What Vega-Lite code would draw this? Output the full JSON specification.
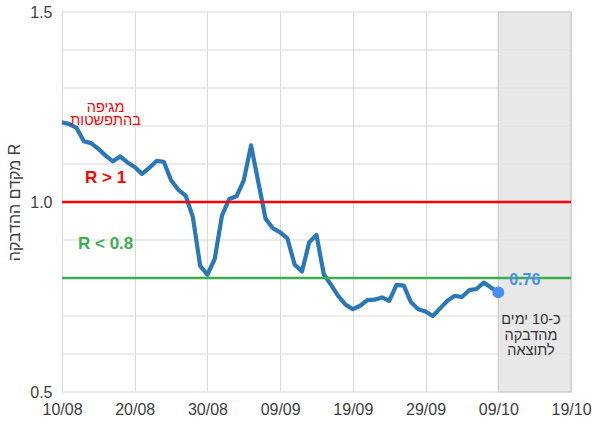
{
  "$schema": "https://vega.github.io/schema/vega-lite/v6.json",
  "width": 509,
  "height": 380,
  "autosize": {"type": "none"},
  "padding": {"left": 62, "top": 12, "right": 21, "bottom": 35},
  "config": {
    "font": "Liberation Sans",
    "view": {"stroke": null},
    "axis": {"gridColor": "#d9d9d9", "gridWidth": 1, "domain": false, "ticks": false, "labelFontSize": 16, "labelColor": "#404040"}
  },
  "datasets": {
    "r": [
      {"d": "2020-08-10", "r": 1.21},
      {"d": "2020-08-11", "r": 1.205},
      {"d": "2020-08-12", "r": 1.195},
      {"d": "2020-08-13", "r": 1.16},
      {"d": "2020-08-14", "r": 1.155},
      {"d": "2020-08-15", "r": 1.14},
      {"d": "2020-08-16", "r": 1.122},
      {"d": "2020-08-17", "r": 1.107},
      {"d": "2020-08-18", "r": 1.12},
      {"d": "2020-08-19", "r": 1.104},
      {"d": "2020-08-20", "r": 1.092},
      {"d": "2020-08-21", "r": 1.074},
      {"d": "2020-08-22", "r": 1.09},
      {"d": "2020-08-23", "r": 1.108},
      {"d": "2020-08-24", "r": 1.106},
      {"d": "2020-08-25", "r": 1.057},
      {"d": "2020-08-26", "r": 1.032},
      {"d": "2020-08-27", "r": 1.017},
      {"d": "2020-08-28", "r": 0.96},
      {"d": "2020-08-29", "r": 0.832},
      {"d": "2020-08-30", "r": 0.809},
      {"d": "2020-08-31", "r": 0.85},
      {"d": "2020-09-01", "r": 0.964},
      {"d": "2020-09-02", "r": 1.008},
      {"d": "2020-09-03", "r": 1.015},
      {"d": "2020-09-04", "r": 1.057},
      {"d": "2020-09-05", "r": 1.149},
      {"d": "2020-09-06", "r": 1.052},
      {"d": "2020-09-07", "r": 0.956},
      {"d": "2020-09-08", "r": 0.931},
      {"d": "2020-09-09", "r": 0.92},
      {"d": "2020-09-10", "r": 0.904},
      {"d": "2020-09-11", "r": 0.835},
      {"d": "2020-09-12", "r": 0.817},
      {"d": "2020-09-13", "r": 0.894},
      {"d": "2020-09-14", "r": 0.913},
      {"d": "2020-09-15", "r": 0.81},
      {"d": "2020-09-16", "r": 0.782},
      {"d": "2020-09-17", "r": 0.752},
      {"d": "2020-09-18", "r": 0.73},
      {"d": "2020-09-19", "r": 0.718},
      {"d": "2020-09-20", "r": 0.727},
      {"d": "2020-09-21", "r": 0.742},
      {"d": "2020-09-22", "r": 0.743},
      {"d": "2020-09-23", "r": 0.749},
      {"d": "2020-09-24", "r": 0.74},
      {"d": "2020-09-25", "r": 0.782},
      {"d": "2020-09-26", "r": 0.78},
      {"d": "2020-09-27", "r": 0.736},
      {"d": "2020-09-28", "r": 0.718},
      {"d": "2020-09-29", "r": 0.712},
      {"d": "2020-09-30", "r": 0.7},
      {"d": "2020-10-01", "r": 0.72},
      {"d": "2020-10-02", "r": 0.74},
      {"d": "2020-10-03", "r": 0.753},
      {"d": "2020-10-04", "r": 0.75},
      {"d": "2020-10-05", "r": 0.768},
      {"d": "2020-10-06", "r": 0.771},
      {"d": "2020-10-07", "r": 0.788},
      {"d": "2020-10-08", "r": 0.775},
      {"d": "2020-10-09", "r": 0.762}
    ],
    "grid": [
      {"v": 0.6}, {"v": 0.7}, {"v": 0.8}, {"v": 0.9}, {"v": 1.0},
      {"v": 1.1}, {"v": 1.2}, {"v": 1.3}, {"v": 1.4}, {"v": 1.5}, {"v": 0.5}
    ],
    "notes": [
      {"d": "2020-08-16", "r": 1.247, "t": "מגיפה", "g": "red"},
      {"d": "2020-08-16", "r": 1.213, "t": "בהתפשטות", "g": "red"},
      {"d": "2020-10-13T12:00:00Z", "r": 0.69, "t": "כ-10 ימים", "g": "black"},
      {"d": "2020-10-13T12:00:00Z", "r": 0.647, "t": "מהדבקה", "g": "black"},
      {"d": "2020-10-13T12:00:00Z", "r": 0.608, "t": "לתוצאה", "g": "black"}
    ],
    "bold": [
      {"d": "2020-08-16", "r": 1.062, "t": "R > 1", "g": "red"},
      {"d": "2020-08-16", "r": 0.89, "t": "R < 0.8", "g": "green"}
    ]
  },
  "layer": [
    {
      "data": {"name": "grid"},
      "mark": {"type": "rule", "color": "#d9d9d9", "strokeWidth": 1},
      "encoding": {"y": {"field": "v", "type": "quantitative"}}
    },
    {
      "data": {"values": [{"s": "2020-10-09", "e": "2020-10-19"}]},
      "mark": {"type": "rect", "fill": "#e2e2e2", "fillOpacity": 0.8, "stroke": "#c8c8c8", "strokeWidth": 1},
      "encoding": {
        "x": {"field": "s", "type": "temporal"},
        "x2": {"field": "e"}
      }
    },
    {
      "data": {"name": "r"},
      "mark": {"type": "line", "color": "#2a78b6", "strokeWidth": 4.2, "strokeJoin": "round"},
      "encoding": {
        "x": {
          "field": "d", "type": "temporal",
          "scale": {"type": "utc", "domain": [{"year": 2020, "month": 8, "date": 10, "utc": true}, {"year": 2020, "month": 10, "date": 19, "utc": true}]},
          "axis": {
            "title": null, "format": "%d/%m", "labelPadding": 9, "labelFlush": false,
            "values": [
              {"year": 2020, "month": 8, "date": 10, "utc": true},
              {"year": 2020, "month": 8, "date": 20, "utc": true},
              {"year": 2020, "month": 8, "date": 30, "utc": true},
              {"year": 2020, "month": 9, "date": 9, "utc": true},
              {"year": 2020, "month": 9, "date": 19, "utc": true},
              {"year": 2020, "month": 9, "date": 29, "utc": true},
              {"year": 2020, "month": 10, "date": 9, "utc": true},
              {"year": 2020, "month": 10, "date": 19, "utc": true}
            ]
          }
        },
        "y": {
          "field": "r", "type": "quantitative",
          "scale": {"domain": [0.5, 1.5], "nice": false, "zero": false},
          "axis": {
            "title": "מקדם ההדבקה R", "titleFontSize": 16, "titleFontWeight": "normal", "titleColor": "#404040", "titlePadding": 7,
            "grid": false,
            "values": [0.5, 1.0, 1.5],
            "format": ".1f",
            "labelOverlap": false,
            "labelPadding": 10
          }
        }
      }
    },
    {
      "data": {"values": [{"v": 1.0}]},
      "mark": {"type": "rule", "color": "#ff0000", "strokeWidth": 2.5},
      "encoding": {"y": {"field": "v", "type": "quantitative"}}
    },
    {
      "data": {"values": [{"v": 0.8}]},
      "mark": {"type": "rule", "color": "#3cae4e", "strokeWidth": 2.5},
      "encoding": {"y": {"field": "v", "type": "quantitative"}}
    },
    {
      "data": {"values": [{"d": "2020-10-09", "r": 0.762}]},
      "mark": {"type": "point", "filled": true, "size": 140, "color": "#4a8ff0", "opacity": 1},
      "encoding": {
        "x": {"field": "d", "type": "temporal"},
        "y": {"field": "r", "type": "quantitative"}
      }
    },
    {
      "data": {"values": [{"d": "2020-10-10T12:00:00Z", "r": 0.795, "t": "0.76"}]},
      "mark": {"type": "text", "align": "left", "baseline": "middle", "fontSize": 16, "fontWeight": "bold", "color": "#4a8ff0"},
      "encoding": {
        "x": {"field": "d", "type": "temporal"},
        "y": {"field": "r", "type": "quantitative"},
        "text": {"field": "t"}
      }
    },
    {
      "data": {"name": "notes"},
      "mark": {"type": "text", "align": "center", "baseline": "middle", "fontSize": 14.5},
      "encoding": {
        "x": {"field": "d", "type": "temporal"},
        "y": {"field": "r", "type": "quantitative"},
        "text": {"field": "t"},
        "color": {"field": "g", "type": "nominal", "scale": {"domain": ["red", "black", "green"], "range": ["#ff0000", "#333333", "#3cae4e"]}, "legend": null}
      }
    },
    {
      "data": {"name": "bold"},
      "mark": {"type": "text", "align": "center", "baseline": "middle", "fontSize": 17, "fontWeight": "bold"},
      "encoding": {
        "x": {"field": "d", "type": "temporal"},
        "y": {"field": "r", "type": "quantitative"},
        "text": {"field": "t"},
        "color": {"field": "g", "type": "nominal", "scale": {"domain": ["red", "black", "green"], "range": ["#ff0000", "#333333", "#3cae4e"]}, "legend": null}
      }
    }
  ]
}
